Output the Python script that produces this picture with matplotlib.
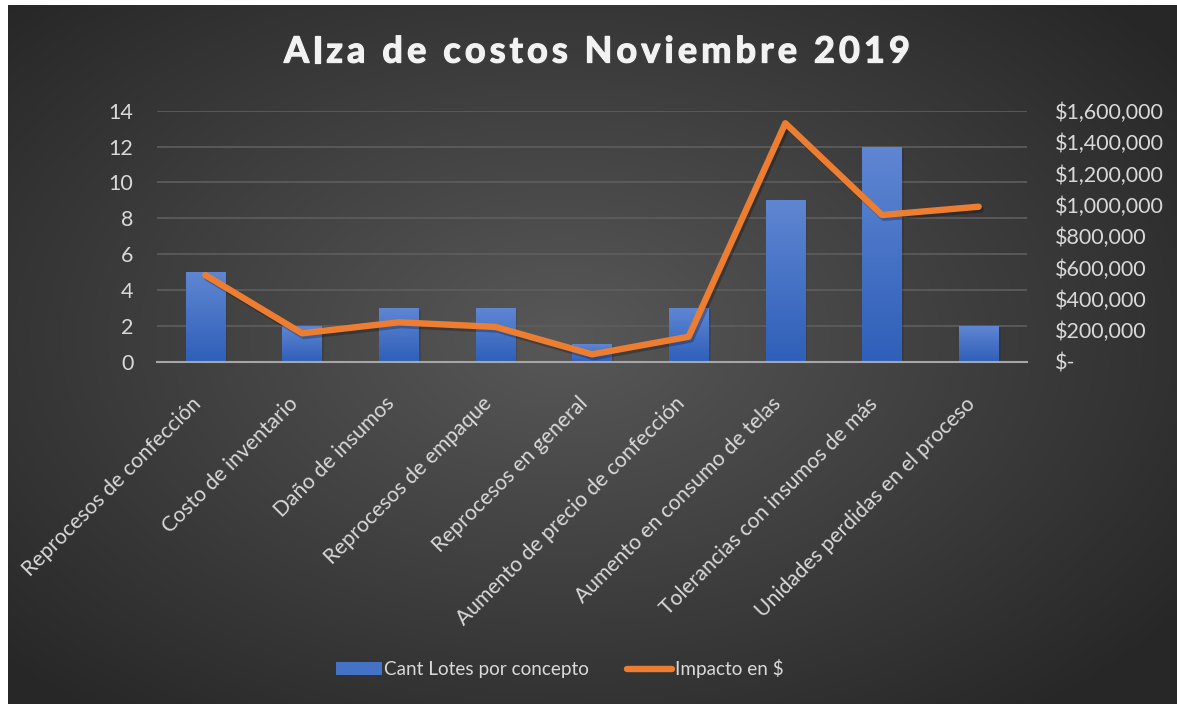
import numpy as np
import matplotlib
matplotlib.use("Agg")
import matplotlib.pyplot as plt
from matplotlib.ticker import FuncFormatter, MultipleLocator
from matplotlib.lines import Line2D
from matplotlib.patches import Patch
from matplotlib.font_manager import FontProperties
import matplotlib.patheffects as pe

plt.rcParams["font.family"] = ["Lato", "DejaVu Sans"]

categorias = [
    "Reprocesos de confección",
    "Costo de inventario",
    "Daño de insumos",
    "Reprocesos de empaque",
    "Reprocesos en general",
    "Aumento de precio de confección",
    "Aumento en consumo de telas",
    "Tolerancias con insumos de más",
    "Unidades perdidas en el proceso",
]
lotes = [5, 2, 3, 3, 1, 3, 9, 12, 2]
impacto = [552000, 181000, 251000, 222000, 47000, 159000, 1520000, 935000, 988000]

TITULO = "Alza de costos Noviembre 2019"
TXT = "#d9d9d9"
BAR_TOP = "#5f86d2"
BAR_BOT = "#2f5fb9"
ORANGE = "#ED7D31"

W, H = 1177, 704
fig = plt.figure(figsize=(W / 100, H / 100), dpi=100, facecolor="white")

# fondo con degradado radial
bg = fig.add_axes([8 / W, 0, 1 - 8 / W, 1 - 5 / H])
bg.set_axis_off()
yy, xx = np.mgrid[-1:1:400j, -1:1:700j]
r = np.sqrt(((xx + 0.05) * 0.95) ** 2 + ((yy + 0.05) * 0.9) ** 2)
r = np.clip(r / 1.25, 0, 1)
c0 = np.array([0x58, 0x58, 0x58]) / 255
c1 = np.array([0x27, 0x27, 0x27]) / 255
img = c0[None, None, :] * (1 - r[..., None]) + c1[None, None, :] * r[..., None]
bg.imshow(img, aspect="auto", extent=[0, 1, 0, 1], interpolation="bilinear")
bg.set_xlim(0, 1)
bg.set_ylim(0, 1)

ax = fig.add_axes([157 / W, 1 - 361.7 / H, 870 / W, 251 / H])
ax.set_facecolor("none")
x = np.arange(len(categorias))
bars = ax.bar(x, lotes, width=0.41, color=BAR_BOT, zorder=3,
              path_effects=[pe.SimplePatchShadow(offset=(1.5, -1.5), alpha=0.18), pe.Normal()])
grad = np.linspace(0, 1, 256)[:, None]
cmap = matplotlib.colors.LinearSegmentedColormap.from_list("bar", [BAR_BOT, BAR_TOP])
for b in bars:
    im = ax.imshow(grad, cmap=cmap, origin="lower", aspect="auto", zorder=3.5,
                   extent=[b.get_x(), b.get_x() + b.get_width(), 0, b.get_height()])
    im.set_clip_path(b)

ax.set_xlim(-0.5, len(categorias) - 0.5)
ax.set_ylim(0, 14)
ax.yaxis.set_major_locator(MultipleLocator(2))
ax.grid(axis="y", color="#5e5e5e", linewidth=1.2, zorder=0)
ax.set_axisbelow(True)
for s in ["top", "right", "left"]:
    ax.spines[s].set_visible(False)
ax.spines["bottom"].set_color("#a6a6a6")
ax.spines["bottom"].set_linewidth(1.5)
ax.spines["bottom"].set_zorder(4)
ax.tick_params(axis="y", length=0, pad=17, labelsize=15.5, labelcolor=TXT)
ax.tick_params(axis="x", length=0, pad=33, labelsize=15.2, labelcolor=TXT)
ax.set_xticks(x)
ax.set_xticklabels(categorias, rotation=45, ha="right", va="bottom",
                   rotation_mode="anchor")

ax2 = ax.twinx()
ax2.set_ylim(0, 1600000)
ax2.yaxis.set_major_locator(MultipleLocator(200000))
ax2.yaxis.set_major_formatter(FuncFormatter(lambda v, p: "$-" if v == 0 else f"${v:,.0f}"))
for s in ax2.spines.values():
    s.set_visible(False)
ax2.tick_params(axis="y", length=0, pad=20, labelsize=15.5, labelcolor=TXT)
ax2.plot(x, impacto, color=ORANGE, linewidth=4.6, solid_capstyle="round",
         solid_joinstyle="round", zorder=5,
         path_effects=[pe.SimpleLineShadow(offset=(1.5, -2), alpha=0.25), pe.Normal()])

# título con espaciado entre letras
fp = FontProperties(family=["Lato", "DejaVu Sans"], weight="bold", size=26)
rend = fig.canvas.get_renderer()
def ancho(s):
    return rend.get_text_width_height_descent(s, fp, ismath=False)[0] if s else 0.0
track = (626 - ancho(TITULO)) / (len(TITULO) - 1)
x0 = 597 - 626 / 2
for i, ch in enumerate(TITULO):
    if ch == " ":
        continue
    px = x0 + ancho(TITULO[:i]) + track * i
    fig.text(px / W, 1 - 52 / H, ch, ha="left", va="center", fontproperties=fp,
             color="#f2f2f2",
             path_effects=[pe.SimplePatchShadow(offset=(1.2, -1.2), alpha=0.4),
                           pe.Stroke(linewidth=0.9, foreground="#f2f2f2"), pe.Normal()])

handles = [Patch(facecolor="#4472c4", edgecolor="none"),
           Line2D([0], [0], color=ORANGE, linewidth=4.6, solid_capstyle="round")]
leg = fig.legend(handles, ["Cant Lotes por concepto", "Impacto en $"], loc="center",
                 bbox_to_anchor=(560 / W, 0.05), ncol=2, frameon=False, fontsize=13.6,
                 handlelength=2.4, handletextpad=0.15, columnspacing=2.0)
for t in leg.get_texts():
    t.set_color(TXT)

fig.savefig("out.png", dpi=100, facecolor=fig.get_facecolor())
